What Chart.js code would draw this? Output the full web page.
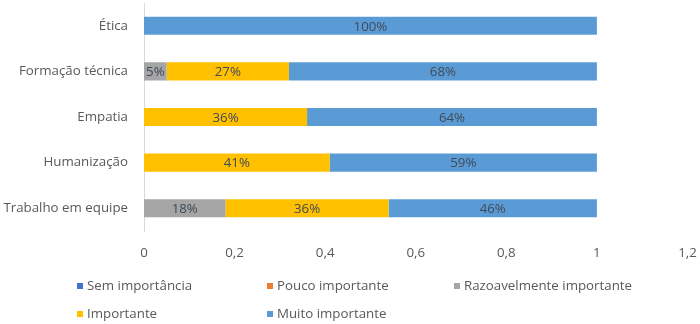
<!DOCTYPE html>
<html>
<head>
<meta charset="utf-8">
<script src="https://cdn.jsdelivr.net/npm/chart.js@4"></script>
<style>
  body { margin: 0; background: #fff; }
  #wrap { position: relative; width: 700px; height: 324px; }
  #legend { position: absolute; left: 0; top: 0; width: 700px; height: 324px; pointer-events: none;
            font-family: "Open Sans", sans-serif; font-size: 13.3px; color: #595959; }
  .item { position: absolute; white-space: nowrap; line-height: 16px; }
  .item span { display: inline-block; width: 6px; height: 6px; margin-right: 4px; vertical-align: 1px; }
</style>
</head>
<body>
<div id="wrap">
  <canvas id="chart" width="700" height="324"></canvas>
  <div id="legend"></div>
</div>
<script>
const categories = ["Ética", "Formação técnica", "Empatia", "Humanização", "Trabalho em equipe"];
const seriesNames = ["Sem importância", "Pouco importante", "Razoavelmente importante", "Importante", "Muito importante"];
const semImportancia = [0, 0, 0, 0, 0];
const poucoImportante = [0, 0, 0, 0, 0];
const razoavelmente = [0, 0.05, 0, 0, 0.18];
const importante = [0, 0.27, 0.36, 0.41, 0.36];
const muitoImportante = [1.00, 0.68, 0.64, 0.59, 0.46];
const xTicks = [0, 0.2, 0.4, 0.6, 0.8, 1, 1.2];

const colors = ["#4472C4", "#ED7D31", "#A5A5A5", "#FFC000", "#5B9BD5"];
const values = [semImportancia, poucoImportante, razoavelmente, importante, muitoImportante];

// legend positions (left of marker, row top)
const legendPos = [[77, 277], [267, 277], [454, 277], [77, 305], [267, 305]];
const legend = document.getElementById("legend");
seriesNames.forEach((name, i) => {
    const d = document.createElement("div");
    d.className = "item";
    d.style.left = legendPos[i][0] + "px";
    d.style.top = legendPos[i][1] + "px";
    d.innerHTML = '<span style="background:' + colors[i] + '"></span>' + name;
    legend.appendChild(d);
});

// labels in the middle of each segment
const barLabels = {
    id: "barLabels",
    afterDatasetsDraw(chart) {
        const ctx = chart.ctx;
        ctx.save();
        ctx.font = "13.3px 'Open Sans', sans-serif";
        ctx.fillStyle = "#404a58";
        ctx.textAlign = "center";
        ctx.textBaseline = "middle";
        chart.data.datasets.forEach((ds, i) => {
            chart.getDatasetMeta(i).data.forEach((bar, j) => {
                const v = ds.data[j];
                if (!v) return;
                const mid = (bar.x + bar.base) / 2;
                ctx.fillText(Math.round(v * 100) + "%", mid, bar.y + 1);
            });
        });
        ctx.restore();
    }
};

new Chart(document.getElementById("chart"), {
    type: "bar",
    data: {
        labels: categories,
        datasets: seriesNames.map((name, i) => ({
            label: name,
            data: values[i],
            backgroundColor: colors[i],
            borderWidth: 0,
            barPercentage: 0.8,
            categoryPercentage: 0.495
        }))
    },
    options: {
        indexAxis: "y",
        responsive: false,
        animation: false,
        layout: { padding: { top: 3, right: 12.5, bottom: 63, left: 0 } },
        plugins: {
            legend: { display: false },
            tooltip: { enabled: false }
        },
        scales: {
            x: {
                stacked: true,
                min: 0,
                max: 1.2,
                afterBuildTicks: s => { s.ticks = xTicks.map(v => ({ value: v })); },
                afterFit: s => {
                    s.height = 30;
                    s.paddingTop = 0; s.paddingBottom = 0;
                    s.paddingLeft = 0; s.paddingRight = 0;
                },
                grid: { display: false },
                border: { display: false },
                ticks: {
                    padding: 6,
                    color: "#595959",
                    font: { family: "'Open Sans', sans-serif", size: 13.3 },
                    callback: v => String(Math.round(v * 10) / 10).replace(".", ",")
                }
            },
            y: {
                stacked: true,
                afterFit: s => { s.width = 144; s.paddingTop = 0; s.paddingBottom = 0; },
                grid: { display: false },
                border: { display: true, color: "#D9D9D9" },
                ticks: {
                    padding: 8,
                    color: "#595959",
                    font: { family: "'Open Sans', sans-serif", size: 13.3 }
                }
            }
        }
    },
    plugins: [barLabels]
});
</script>
</body>
</html>
